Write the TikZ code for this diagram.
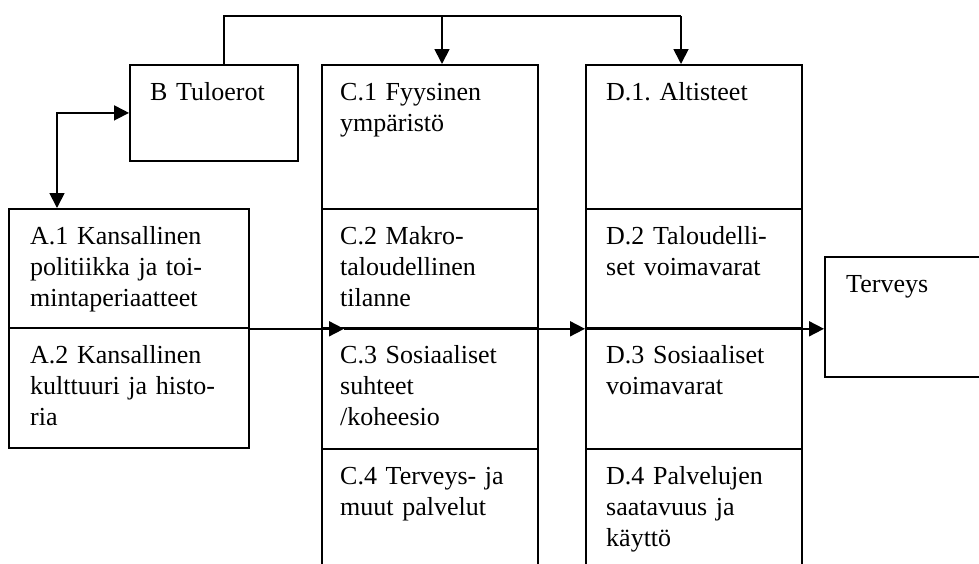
\documentclass[tikz,border=0pt]{standalone}
\usepackage{fontspec}
\setmainfont{Liberation Serif}
\usetikzlibrary{arrows.meta}
\frenchspacing

\begin{document}
\begin{tikzpicture}
[x=1pt,y=-1pt,%
  lineDecorate/.style={-,line width=1.8pt},%
  arrowDecorate/.style={->,>={Triangle[length=15pt,width=15pt]},line width=1.8pt},%
  boxDecorate/.style={shape=rectangle,draw,line width=1.8pt,inner sep=0pt,anchor=north west},%
  textDecorate/.style={anchor=base west,inner sep=0pt,text width=230pt,align=left,
    font=\fontsize{26}{31}\selectfont}]
\useasboundingbox (0,0) rectangle (979,563);
\clip (0,0) rectangle (979,563);
%% boxes
\foreach \nodename/\x/\y/\w/\h in {B/129/64/168/96, A1/8/208/240/119, A2/8/327/240/120,
  C1/321/64/216/144, C2/321/208/216/119, C3/321/327/216/121, C4/321/448/216/140,
  D1/585/64/216/144, D2/585/208/216/119, D3/585/327/216/121, D4/585/448/216/140,
  T/824/256/200/120}
{
  \node (\nodename) at (\x,\y) [boxDecorate,minimum width=\w pt,minimum height=\h pt] {};
}
%% texts
\node (tB) at ([shift={(21,36)}]B.north west) [textDecorate] {B Tuloerot};
\node (tA1) at ([shift={(22,36)}]A1.north west) [textDecorate] {A.1 Kansallinen\\politiikka ja toi-\\mintaperiaatteet};
\node (tA2) at ([shift={(22,36)}]A2.north west) [textDecorate] {A.2 Kansallinen\\kulttuuri ja histo-\\ria};
\node (tC1) at ([shift={(19,36)}]C1.north west) [textDecorate] {C.1 Fyysinen\\ympäristö};
\node (tC2) at ([shift={(19,36)}]C2.north west) [textDecorate] {C.2 Makro-\\taloudellinen\\tilanne};
\node (tC3) at ([shift={(19,36)}]C3.north west) [textDecorate] {C.3 Sosiaaliset\\suhteet\\/koheesio};
\node (tC4) at ([shift={(19,36)}]C4.north west) [textDecorate] {C.4 Terveys- ja\\muut palvelut};
\node (tD1) at ([shift={(21,36)}]D1.north west) [textDecorate] {D.1. Altisteet};
\node (tD2) at ([shift={(21,36)}]D2.north west) [textDecorate] {D.2 Taloudelli-\\set voimavarat};
\node (tD3) at ([shift={(21,36)}]D3.north west) [textDecorate] {D.3 Sosiaaliset\\voimavarat};
\node (tD4) at ([shift={(21,36)}]D4.north west) [textDecorate] {D.4 Palvelujen\\saatavuus ja\\käyttö};
\node (tT) at ([shift={(22,36)}]T.north west) [textDecorate] {Terveys};
%% arrows
\coordinate (busL) at (224,16);
\coordinate (busC) at (442,16);
\coordinate (busR) at (681,16);
\draw[lineDecorate] (busL |- B.north) -- (busL) -- (busR);
\draw[arrowDecorate] (busC) -- (busC |- C1.north);
\draw[arrowDecorate] (busR) -- (busR |- D1.north);
\draw[arrowDecorate,<->] ([xshift=49pt]A1.north west) |- (B.west);
\draw[arrowDecorate] (A1.south east) -- ([xshift=23pt]C2.south west);
\draw[arrowDecorate] ([xshift=23pt]C2.south west) -- (D2.south west);
\draw[arrowDecorate] (D2.south west) -- (D2.south west -| T.west);
\end{tikzpicture}
\end{document}
